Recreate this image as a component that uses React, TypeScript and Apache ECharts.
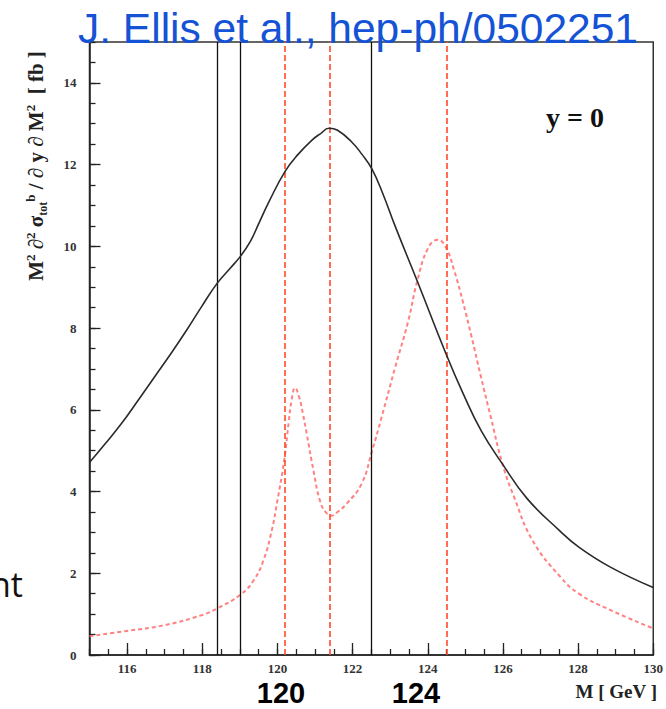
import React, { useEffect, useRef } from "react";
import * as echarts from "echarts";

// ---- data ----
const blackMass = [115.0, 115.4, 115.84, 116.3, 116.72, 117.2, 117.6, 118.0, 118.4, 118.75, 119.02, 119.28, 119.5, 119.78, 120.2, 120.55, 120.92, 121.15, 121.37, 121.6, 121.97, 122.25, 122.51, 122.8, 123.13, 123.72, 124.49, 124.93, 125.42, 125.99, 126.65, 127.5, 128.02, 128.86, 130.0];
const blackValue = [4.71, 5.15, 5.65, 6.24, 6.79, 7.42, 7.97, 8.55, 9.1, 9.47, 9.76, 10.12, 10.55, 11.1, 11.83, 12.25, 12.6, 12.76, 12.89, 12.84, 12.56, 12.25, 11.9, 11.3, 10.5, 9.15, 7.36, 6.42, 5.49, 4.67, 3.82, 3.05, 2.64, 2.15, 1.65];

const redMass = [115.0, 116.0, 117.0, 118.0, 118.4, 119.02, 119.37, 119.63, 119.85, 120.0, 120.18, 120.3, 120.38, 120.47, 120.58, 120.68, 120.78, 120.96, 121.13, 121.28, 121.44, 121.6, 121.84, 122.24, 122.52, 122.77, 123.13, 123.48, 123.72, 124.01, 124.27, 124.49, 124.71, 124.93, 125.15, 125.42, 125.68, 125.99, 126.3, 126.79, 127.53, 128.02, 128.86, 130.0];
const redValue = [0.46, 0.59, 0.73, 0.98, 1.14, 1.48, 1.83, 2.32, 3.05, 3.78, 4.76, 5.7, 6.25, 6.54, 6.3, 5.9, 5.41, 4.51, 3.78, 3.5, 3.41, 3.5, 3.7, 4.19, 5.0, 5.81, 7.03, 8.17, 9.15, 9.96, 10.16, 9.96, 9.39, 8.66, 7.85, 6.79, 5.81, 4.67, 3.86, 2.8, 1.91, 1.5, 1.1, 0.65];

const blackLines = [118.4, 119.0, 122.5];
const redLines = [120.2, 121.4, 124.5];

const xLabels = [116, 118, 120, 122, 124, 126, 128, 130];
const yLabels = [0, 2, 4, 6, 8, 10, 12, 14];

const titleText = "J. Ellis et al., hep-ph/0502251";
const bigLabels = [
  { text: "120", x: 281 },
  { text: "124", x: 416 },
];

const serif = '"Liberation Serif", "DejaVu Serif", serif';
const sans = '"Liberation Sans", Arial, sans-serif';

export default function App() {
  const ref = useRef<HTMLDivElement>(null);
  useEffect(() => {
    if (!ref.current) return;
    const chart = echarts.init(ref.current, null, { renderer: "svg" });
    const axisColor = "#222";
    const tickLabel = { fontFamily: serif, fontWeight: "bold" as const, fontSize: 13, color: "#333" };
    const option: any = {
      animation: false,
      backgroundColor: "#fff",
      grid: {
        left: 89.5,
        right: 9.5,
        top: 42,
        bottom: 54,
        show: true,
        borderColor: "#333",
        borderWidth: 1.5,
        backgroundColor: "transparent",
      },
      xAxis: [
        {
          type: "value",
          min: 115,
          max: 130,
          interval: 0.5,
          axisLine: { show: true, onZero: false, lineStyle: { color: axisColor, width: 1.5 } },
          axisTick: { show: true, inside: true, length: 6, lineStyle: { color: axisColor, width: 1.3 } },
          axisLabel: { ...tickLabel, margin: 7, customValues: xLabels, formatter: (v: number) => String(v) },
          splitLine: { show: false },
        },
        {
          type: "value",
          min: 115,
          max: 130,
          interval: 0.5,
          position: "bottom",
          axisLine: { show: false },
          axisTick: { show: true, inside: true, length: 12, customValues: xLabels, lineStyle: { color: axisColor, width: 1.3 } },
          axisLabel: { show: false },
          splitLine: { show: false },
        },
      ],
      yAxis: [
        {
          type: "value",
          min: 0,
          max: 15,
          interval: 0.5,
          axisLine: { show: true, onZero: false, lineStyle: { color: axisColor, width: 1.5 } },
          axisTick: { show: true, inside: true, length: 6, lineStyle: { color: axisColor, width: 1.3 } },
          axisLabel: { ...tickLabel, margin: 13, customValues: yLabels, formatter: (v: number) => String(v) },
          splitLine: { show: false },
        },
        {
          type: "value",
          min: 0,
          max: 15,
          interval: 0.5,
          position: "left",
          axisLine: { show: false },
          axisTick: { show: true, inside: true, length: 11, customValues: yLabels, lineStyle: { color: axisColor, width: 1.3 } },
          axisLabel: { show: false },
          splitLine: { show: false },
        },
      ],
      series: [
        {
          type: "line",
          xAxisIndex: 0,
          yAxisIndex: 0,
          data: blackMass.map((m, i) => [m, blackValue[i]]),
          showSymbol: false,
          smooth: 0.45,
          lineStyle: { color: "#2a2a2a", width: 1.6 },
          z: 5,
          markLine: {
            silent: true,
            symbol: ["none", "none"],
            label: { show: false },
            lineStyle: { color: "#111", width: 1.3, type: "solid" },
            data: blackLines.map((v) => ({ xAxis: v })),
          },
        },
        {
          type: "line",
          xAxisIndex: 0,
          yAxisIndex: 0,
          data: redMass.map((m, i) => [m, redValue[i]]),
          showSymbol: false,
          smooth: 0.45,
          lineStyle: { color: "#ff6b6b", width: 2, type: [4, 3], opacity: 0.85 },
          z: 4,
          markLine: {
            silent: true,
            symbol: ["none", "none"],
            label: { show: false },
            lineStyle: { color: "#ff4a2a", width: 1.6, type: [6, 3] },
            data: redLines.map((v) => ({ xAxis: v })),
          },
        },
      ],
      graphic: [
        {
          type: "text",
          x: 78,
          y: 7,
          z: 100,
          style: {
            text: titleText,
            font: `42.5px ${sans}`,
            fill: "#1452d6",
            align: "left",
            verticalAlign: "top",
          },
        },
        {
          type: "text",
          x: 36,
          y: 166,
          rotation: Math.PI / 2,
          style: {
            text: "{b|M}{sup|2}{b| ∂}{sup|2}{b| σ}{sub|tot}{sup|b}{b| / ∂ y ∂ M}{sup|2}{b|  [ fb ]}",
            align: "center",
            verticalAlign: "middle",
            fill: "#222",
            rich: {
              b: { fontFamily: serif, fontWeight: "bold", fontSize: 21, fill: "#222", lineHeight: 25 },
              sup: { fontFamily: serif, fontWeight: "bold", fontSize: 13, fill: "#222", verticalAlign: "top", lineHeight: 25 },
              sub: { fontFamily: serif, fontWeight: "bold", fontSize: 12, fill: "#222", verticalAlign: "bottom", lineHeight: 25 },
            },
          },
        },
        {
          type: "text",
          x: 575,
          y: 117,
          style: {
            text: "y = 0",
            font: `bold 28px ${serif}`,
            fill: "#111",
            align: "center",
            verticalAlign: "middle",
          },
        },
        {
          type: "text",
          x: 657,
          y: 691,
          style: {
            text: "M [ GeV ]",
            font: `bold 19px ${serif}`,
            fill: "#222",
            align: "right",
            verticalAlign: "middle",
          },
        },
        ...bigLabels.map((b) => ({
          type: "text",
          x: b.x,
          y: 693,
          style: {
            text: b.text,
            font: `bold 29px ${sans}`,
            fill: "#000",
            align: "center",
            verticalAlign: "middle",
          },
        })),
        {
          type: "text",
          x: 23,
          y: 567,
          style: {
            text: "nt",
            font: `34px "Open Sans", "DejaVu Sans", sans-serif`,
            fill: "#111",
            align: "right",
            verticalAlign: "alphabetic",
          },
        },
      ],
    };
    chart.setOption(option);
    return () => chart.dispose();
  }, []);
  return (
    <div
      ref={ref}
      style={{ position: "fixed", left: 0, top: 0, width: 666, height: 709, background: "#fff" }}
    />
  );
}
